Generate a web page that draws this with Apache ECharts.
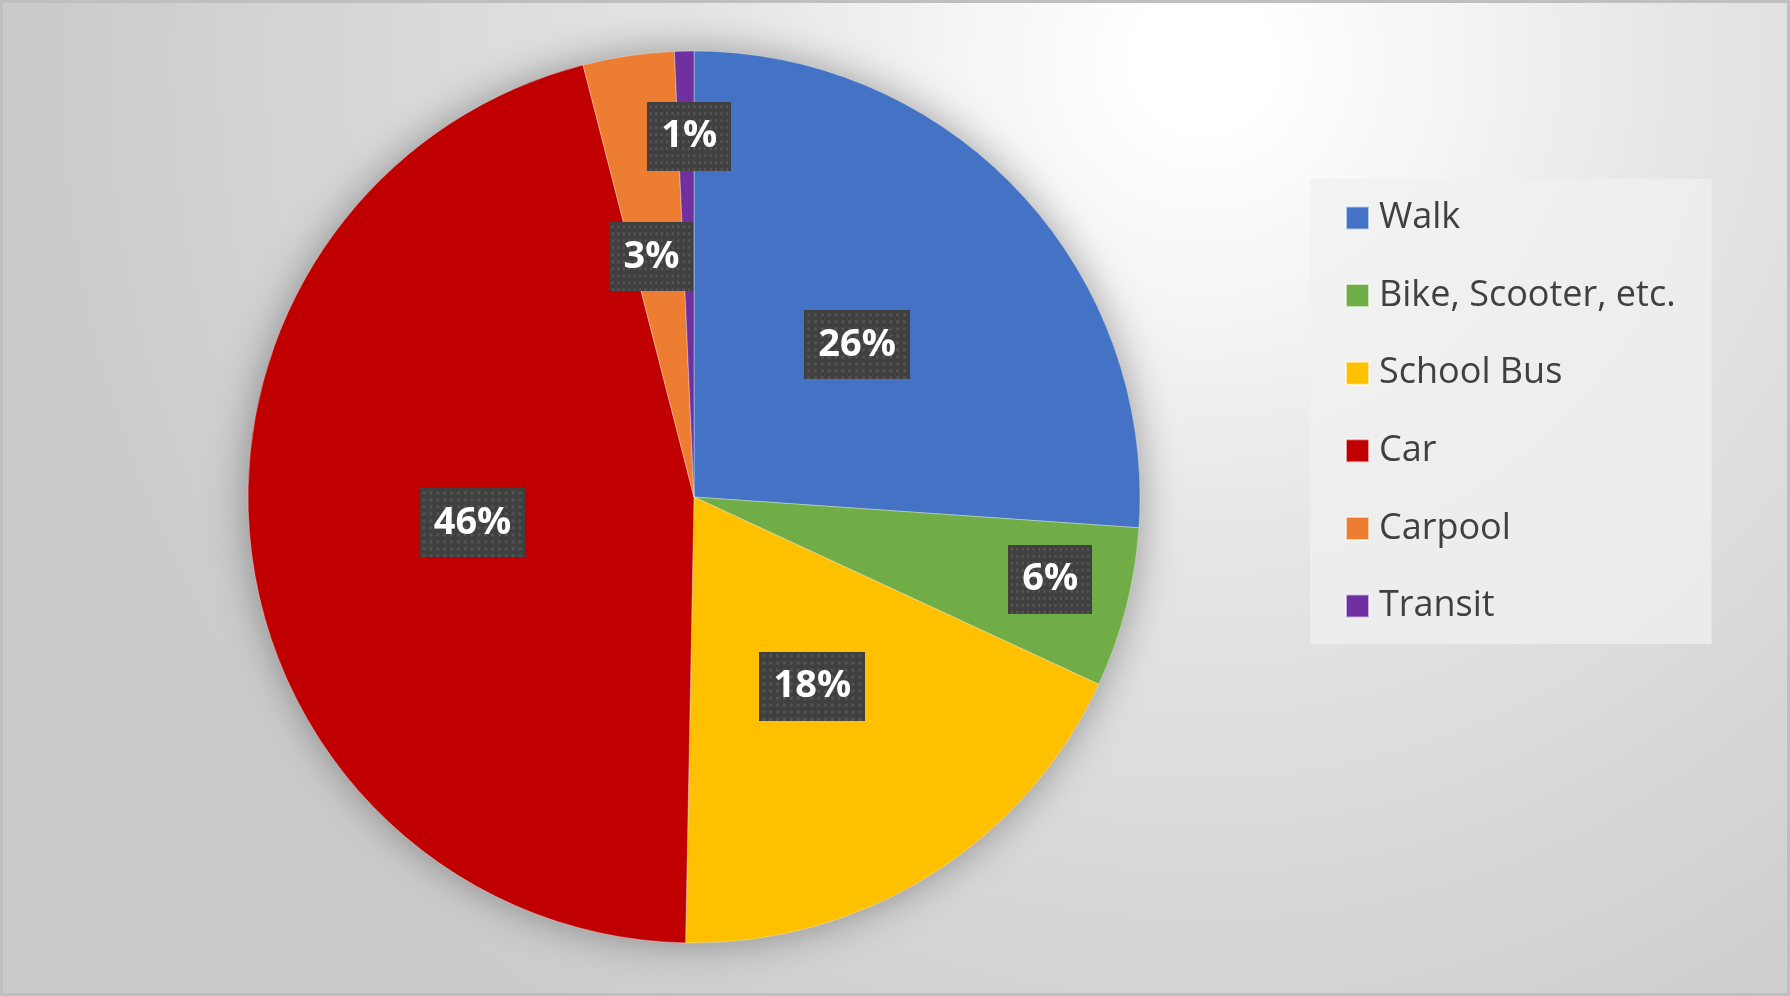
<!DOCTYPE html>
<html>
<head>
<meta charset="utf-8">
<script src="https://cdn.jsdelivr.net/npm/echarts@6/dist/echarts.min.js"></script>
<style>
  html, body { margin: 0; padding: 0; }
  #chart {
    width: 1790px; height: 996px; box-sizing: border-box;
    border: 3px solid #bfbfbf;
    background: radial-gradient(circle 1150px at 1200px 60px, #ffffff 0%, #ffffff 6%, #e4e4e4 45%, #cbcbcb 100%);
  }
</style>
</head>
<body>
<div id="chart"></div>
<script>
const categories = ['Walk', 'Bike, Scooter, etc.', 'School Bus', 'Car', 'Carpool', 'Transit'];
const values = [26.1, 5.8, 18.4, 45.7, 3.3, 0.7];
const colors = ['#4472C4', '#70AD47', '#FFC000', '#C00000', '#ED7D31', '#7030A0'];
// label placement (Excel best-fit): distance from centre as fraction of radius, and angular nudge in degrees
const labelRadius = [0.5, 0.82, 0.5, 0.5, 0.547, 0.808];
const labelAngleShift = [0, -1.4, 0, 0, -1.6, 0.5];

// dotted dark texture for data-label boxes
const tex = document.createElement('canvas');
tex.width = 108; tex.height = 69;
(function () {
  const g = tex.getContext('2d');
  g.fillStyle = '#404040';
  g.fillRect(0, 0, tex.width, tex.height);
  g.fillStyle = '#545454';
  for (let y = 3; y < tex.height; y += 7) {
    for (let x = 3; x < tex.width; x += 7) {
      g.fillRect(x, y, 3, 3);
    }
  }
})();

const chart = echarts.init(document.getElementById('chart'), null, { renderer: 'canvas' });
const CX = 694 - 3, CY = 497 - 3, R = 446;
const total = values.reduce((a, b) => a + b, 0);

chart.setOption({
  backgroundColor: 'transparent',
  animation: false,
  color: colors,
  legend: {
    orient: 'vertical',
    left: 1310 - 3,
    top: 179 - 3,
    icon: 'rect',
    itemWidth: 23,
    itemHeight: 23,
    itemGap: 33.6,
    padding: [17, 36, 16, 35],
    backgroundColor: 'rgba(240,240,240,0.75)',
    data: categories,
    textStyle: {
      fontFamily: 'Open Sans',
      fontSize: 36,
      color: '#404040',
      lineHeight: 44,
      padding: [0, 0, 0, 5]
    },
    selectedMode: false
  },
  series: [
    {
      type: 'pie',
      silent: true,
      z: 1,
      center: [CX, CY],
      radius: R,
      label: { show: false },
      labelLine: { show: false },
      itemStyle: {
        color: '#888',
        shadowBlur: 40,
        shadowColor: 'rgba(0,0,0,0.35)'
      },
      data: [{ value: total, name: '' }],
      tooltip: { show: false }
    },
    {
      type: 'pie',
      z: 2,
      center: [CX, CY],
      radius: R,
      startAngle: 90,
      clockwise: true,
      avoidLabelOverlap: false,
      itemStyle: { borderColor: 'rgba(255,255,255,0.6)', borderWidth: 0.6 },
      data: categories.map((c, i) => ({ name: c, value: values[i] })),
      labelLine: { show: false },
      label: {
        show: true,
        position: 'inside',
        formatter: p => Math.round(p.percent) + '%',
        fontFamily: 'Open Sans',
        fontWeight: 'bold',
        fontSize: 38,
        lineHeight: 41,
        color: '#ffffff',
        backgroundColor: { image: tex },
        padding: [14, 14, 14, 14],
        shadowColor: 'rgba(0,0,0,0.55)',
        shadowBlur: 10,
        shadowOffsetX: 4,
        shadowOffsetY: 4
      },
      labelLayout: function (params) {
        const r = params.labelRect;
        const lx = r.x + r.width / 2, ly = r.y + r.height / 2;
        const i = params.dataIndex;
        const ang = Math.atan2(ly - CY, lx - CX) + labelAngleShift[i] * Math.PI / 180;
        const d = labelRadius[i] * R;
        return { dx: CX + d * Math.cos(ang) - lx, dy: CY + d * Math.sin(ang) - ly };
      }
    }
  ]
});
</script>
</body>
</html>
